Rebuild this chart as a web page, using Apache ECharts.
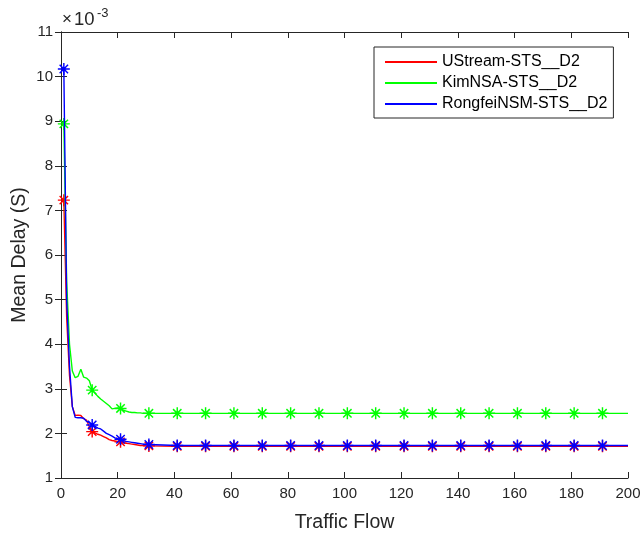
<!DOCTYPE html>
<html>
<head>
<meta charset="utf-8">
<script src="https://cdn.jsdelivr.net/npm/echarts@6/dist/echarts.min.js"></script>
<style>html,body{margin:0;padding:0;background:#fff}#c{width:641px;height:534px}</style>
</head>
<body>
<div id="c"></div>
<script>
// Traffic flow positions (x)
var xs = [1,2,3,4,5,6,7,8,9,10,11,12,13,14,15,16,17,18,19,20,21,22,23,24,25,26,27,28,29,30,31,41,51,61,71,81,91,101,111,121,131,141,151,161,171,181,191,200];
// Mean delay values (x 10^-3 s)
var ustream = [7.23,4.6,3.3,2.6,2.4,2.41,2.40,2.33,2.30,2.15,2.04,2.01,1.98,1.96,1.93,1.90,1.86,1.84,1.83,1.82,1.81,1.79,1.78,1.77,1.76,1.75,1.74,1.73,1.73,1.72,1.72,1.71,1.71,1.71,1.71,1.71,1.71,1.71,1.71,1.71,1.71,1.71,1.71,1.71,1.71,1.71,1.71,1.71];
var kimnsa = [8.94,5.4,4.0,3.4,3.25,3.28,3.44,3.26,3.24,3.18,2.97,2.90,2.83,2.77,2.72,2.67,2.62,2.55,2.56,2.57,2.56,2.52,2.50,2.48,2.47,2.47,2.46,2.46,2.45,2.45,2.45,2.45,2.45,2.45,2.45,2.45,2.45,2.45,2.45,2.45,2.45,2.45,2.45,2.45,2.45,2.45,2.45,2.45];
var rongfei = [10.17,5.0,3.5,2.6,2.36,2.35,2.35,2.34,2.27,2.24,2.19,2.16,2.12,2.10,2.05,2.00,1.97,1.94,1.90,1.88,1.87,1.84,1.82,1.81,1.80,1.79,1.78,1.77,1.76,1.76,1.75,1.73,1.73,1.73,1.73,1.73,1.73,1.73,1.73,1.73,1.73,1.73,1.73,1.73,1.73,1.73,1.73,1.73];
// x positions carrying a marker
var markerXs = [1,11,21,31,41,51,61,71,81,91,101,111,121,131,141,151,161,171,181,191];
var seriesNames = ['UStream-STS__D2','KimNSA-STS__D2','RongfeiNSM-STS__D2'];
var colors = ['#ff0000','#00ff00','#0000ff'];
var xTicks = [0,20,40,60,80,100,120,140,160,180,200];
var yTicks = [1,2,3,4,5,6,7,8,9,10,11];

var ASTER = 'path://M8.8,0 L11.2,0 L11.2,20 L8.8,20 Z M0,8.8 L20,8.8 L20,11.2 L0,11.2 Z M3.85,2.15 L17.85,16.15 L16.15,17.85 L2.15,3.85 Z M16.15,2.15 L17.85,3.85 L3.85,17.85 L2.15,16.15 Z';
var FONT = 'Liberation Sans';
var TXT = '#262626';

function build(vals) {
  return xs.map(function (x, i) {
    return { value: [x, vals[i]], symbol: markerXs.indexOf(x) >= 0 ? ASTER : 'none' };
  });
}
var allVals = [ustream, kimnsa, rongfei];
var series = allVals.map(function (v, k) {
  return {
    name: seriesNames[k], type: 'line', data: build(v),
    showAllSymbol: true, symbolSize: 12, z: 2 + k,
    lineStyle: { color: colors[k], width: 1.4 },
    itemStyle: { color: colors[k] },
    emphasis: { disabled: true }, animation: false
  };
});

var chart = echarts.init(document.getElementById('c'), null, { renderer: 'canvas' });
var axisLine = { show: true, lineStyle: { color: TXT, width: 1 } };
chart.setOption({
  backgroundColor: '#fff',
  animation: false,
  grid: { left: 61, right: 13, top: 32, bottom: 56, containLabel: false, outerBoundsMode: 'none' },
  legend: {
    data: seriesNames, orient: 'vertical', left: 374, top: 47,
    icon: 'rect', itemWidth: 52, itemHeight: 2, itemGap: 5,
    padding: [7, 6, 6, 11], borderColor: TXT, borderWidth: 1, backgroundColor: '#fff',
    textStyle: { fontFamily: FONT, fontSize: 16, color: '#000' }
  },
  xAxis: [{
    type: 'value', min: xTicks[0], max: xTicks[xTicks.length - 1], interval: 20,
    name: 'Traffic Flow', nameLocation: 'middle', nameGap: 35, nameMoveOverlap: false,
    nameTextStyle: { fontFamily: FONT, fontSize: 19.5, color: TXT },
    axisLine: axisLine, axisTick: { inside: true, length: 6, lineStyle: { color: TXT } },
    axisLabel: { fontFamily: FONT, fontSize: 15, color: TXT, margin: 8 },
    splitLine: { show: false }
  }, {
    type: 'value', position: 'top', min: 0, max: 200, interval: 20,
    axisLine: axisLine, axisTick: { inside: true, length: 6, lineStyle: { color: TXT } },
    axisLabel: { show: false }, splitLine: { show: false }
  }],
  yAxis: [{
    type: 'value', min: yTicks[0], max: yTicks[yTicks.length - 1], interval: 1,
    name: 'Mean Delay (S)', nameLocation: 'middle', nameGap: 31, nameMoveOverlap: false,
    nameTextStyle: { fontFamily: FONT, fontSize: 19.5, color: TXT },
    axisLine: axisLine, axisTick: { inside: true, length: 6, lineStyle: { color: TXT } },
    axisLabel: { fontFamily: FONT, fontSize: 15, color: TXT, margin: 8 },
    splitLine: { show: false }
  }, {
    type: 'value', position: 'right', min: 1, max: 11, interval: 1,
    axisLine: axisLine, axisTick: { inside: true, length: 6, lineStyle: { color: TXT } },
    axisLabel: { show: false }, splitLine: { show: false }
  }],
  graphic: [{
    type: 'text', left: 62, top: 11,
    style: { text: '×', fontFamily: FONT, fontSize: 17, fill: TXT }
  }, {
    type: 'text', left: 74, top: 10,
    style: { text: '10', fontFamily: FONT, fontSize: 18.5, fill: TXT }
  }, {
    type: 'text', left: 97, top: 7,
    style: { text: '-3', fontFamily: FONT, fontSize: 13, fill: TXT }
  }],
  series: series
});
</script>
</body>
</html>
